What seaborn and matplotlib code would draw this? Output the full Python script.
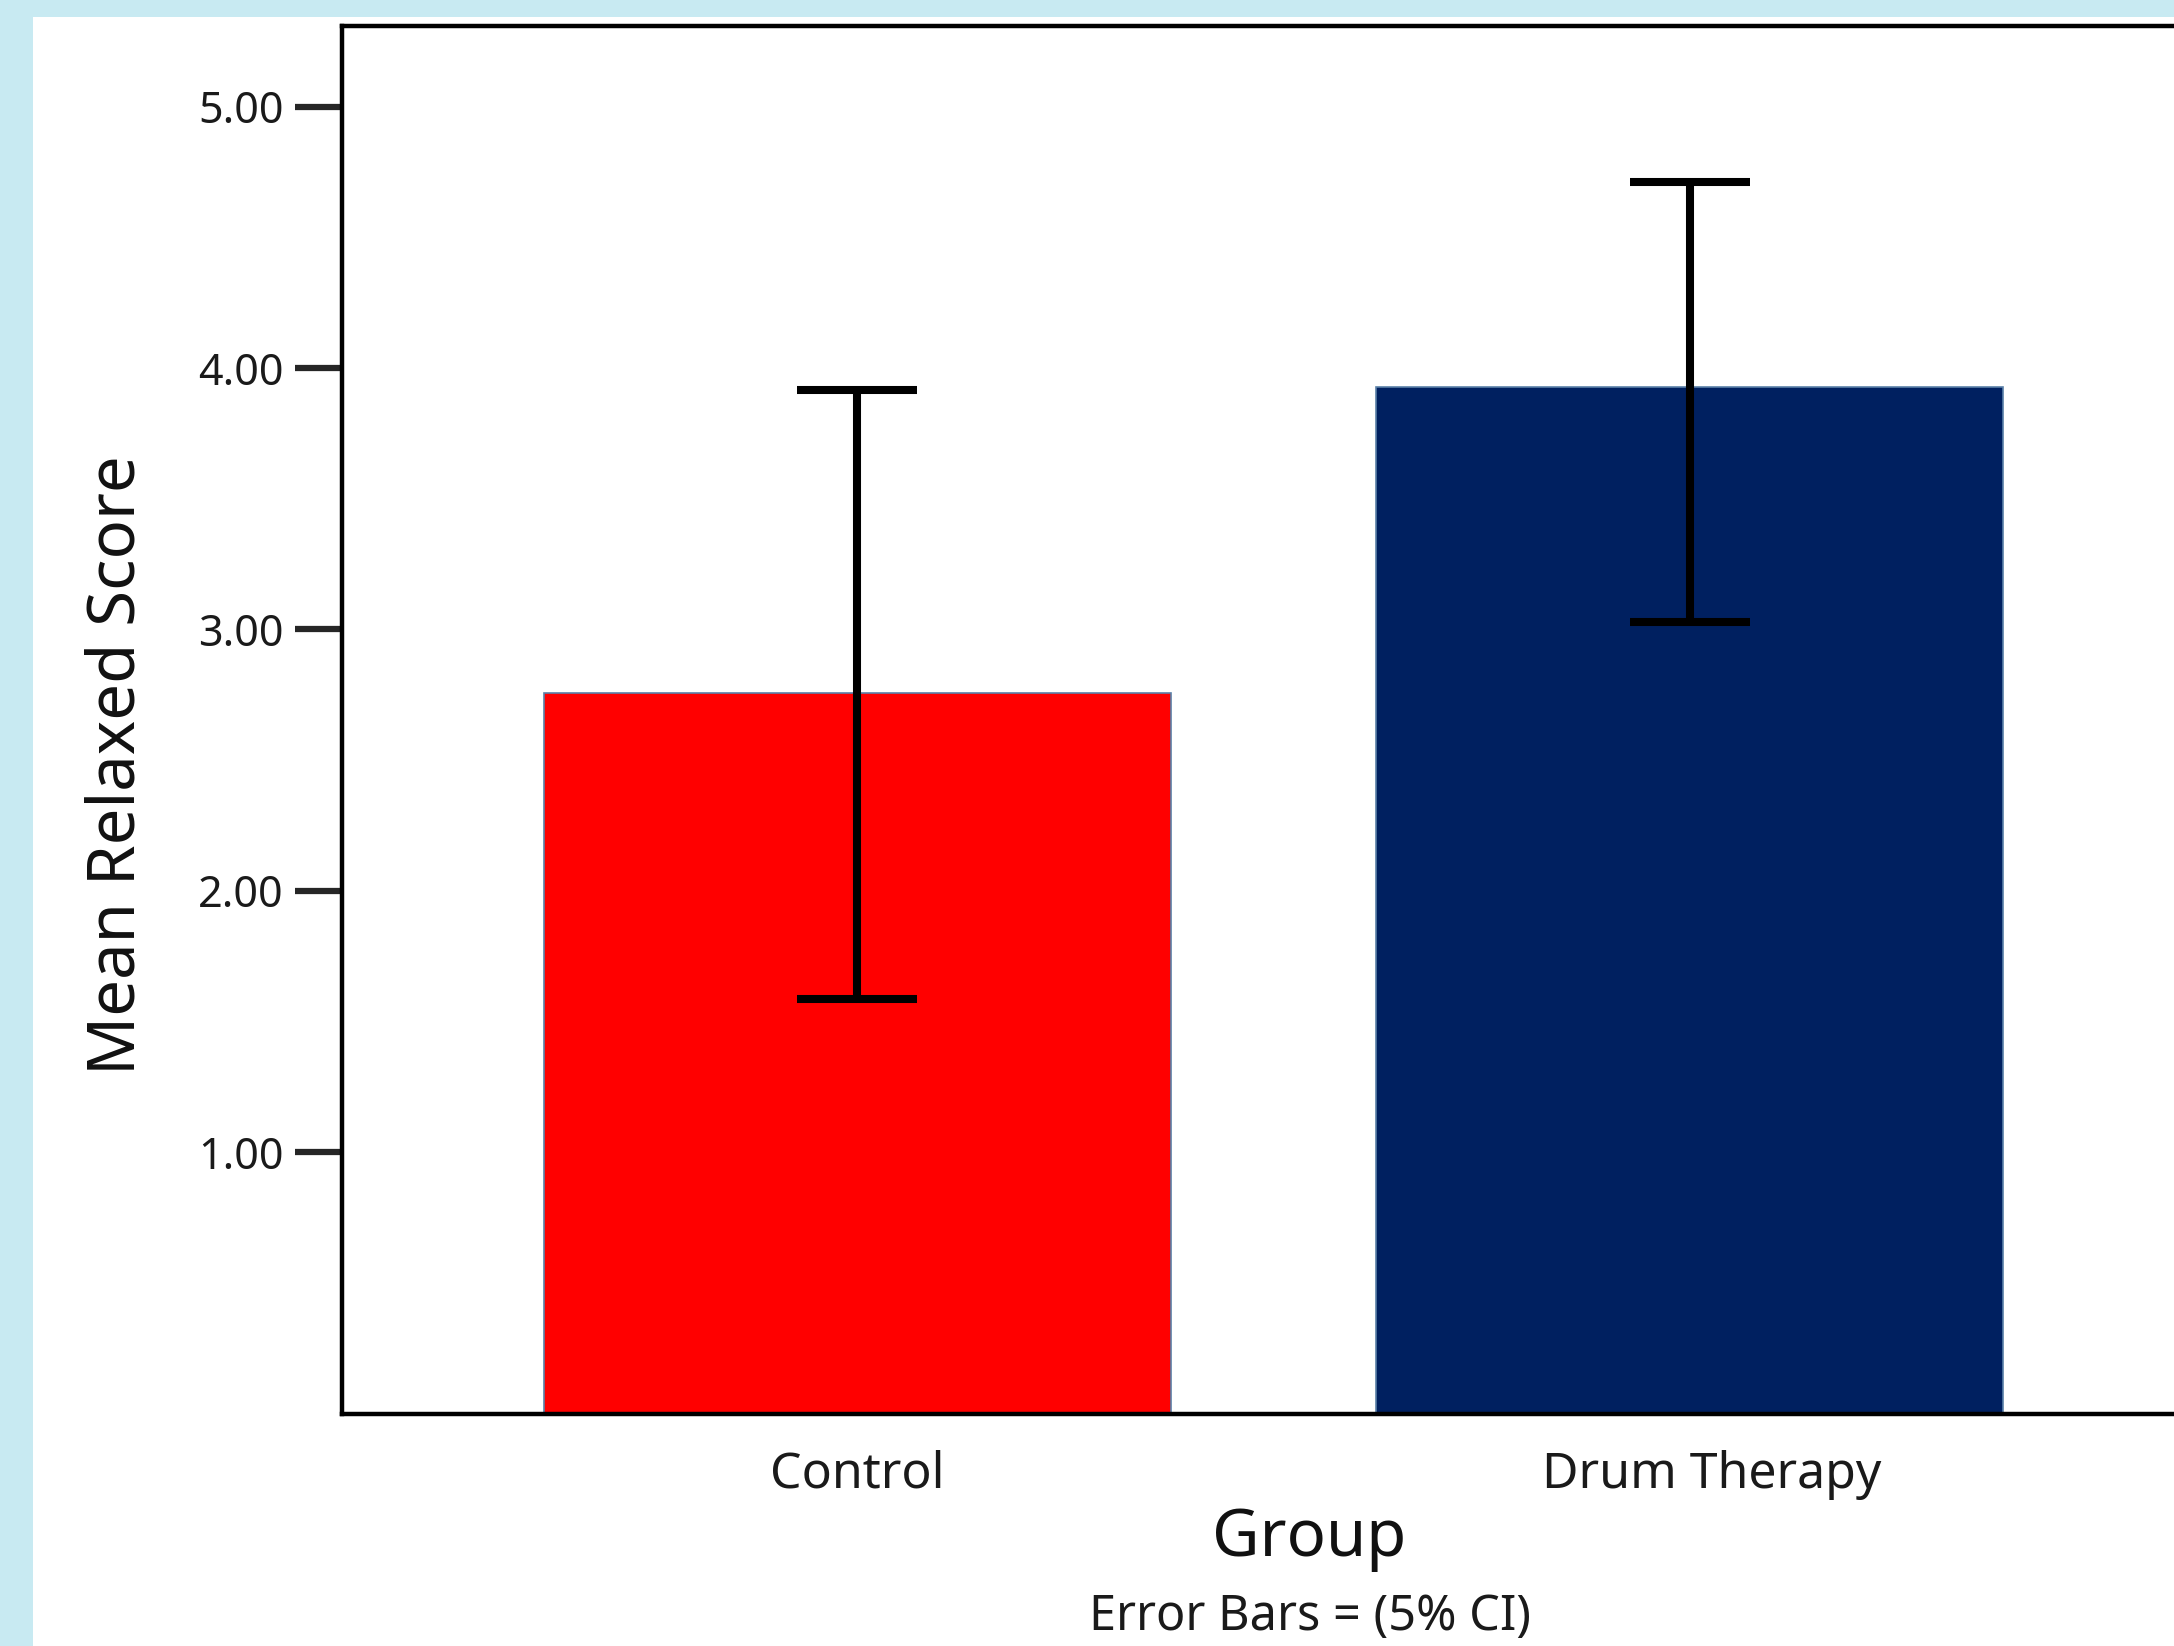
import numpy as np
import matplotlib
matplotlib.use('Agg')
import matplotlib.pyplot as plt
import matplotlib.transforms as mtransforms
import seaborn as sns
from matplotlib.patches import Rectangle

groups = ['Control', 'Drum Therapy']
means = [2.755, 3.926]
ci_low = [1.584, 3.03]
ci_high = [3.915, 4.71]
bar_colors = ['#ff0000', '#002060']
yticks = [1.0, 2.0, 3.0, 4.0, 5.0]

sns.set_style('white')
plt.rcParams['font.family'] = ['Noto Sans', 'DejaVu Sans']

fig = plt.figure(figsize=(21.74, 16.46), dpi=100)
fig.patch.set_facecolor('#c8eaf2')
# white panel inside the light blue frame
fig.patches.append(Rectangle((33 / 2174, 0), 1, 1 - 17 / 1646, transform=fig.transFigure,
                             facecolor='white', edgecolor='none', zorder=-5))

ax = fig.add_axes([342 / 2174, 1 - 1413.5 / 1646, (2195 - 342) / 2174, (1413.5 - 25.6) / 1646])
ax.set_facecolor('white')

sns.barplot(x=groups, y=means, hue=groups, palette=bar_colors, legend=False,
            saturation=1, width=0.753, edgecolor='#5a80a8', linewidth=1.2, ax=ax, zorder=2)

pos = np.arange(len(groups))
m = np.array(means)
yerr = np.array([m - np.array(ci_low), np.array(ci_high) - m])
ax.errorbar(pos, m, yerr=yerr, fmt='none', ecolor='black', elinewidth=5.8,
            capsize=43, capthick=5.8, zorder=3)

ax.set_xlim(-0.619, 1.607)
ax.set_ylim(0, 5.31)
ax.set_yticks(yticks)
ax.set_yticklabels([f'{v:.2f}' for v in yticks], fontsize=31, color='#1a1a1a')
ax.tick_params(axis='y', direction='out', length=34, width=4.5, pad=8, left=True)
ax.tick_params(axis='x', length=0, pad=26, labelsize=36, labelcolor='#1a1a1a')

# the second category label sits a little right of its bar in the original
lbl = ax.get_xticklabels()[1]
lbl.set_transform(lbl.get_transform() + mtransforms.ScaledTranslation(16 / 72, 0, fig.dpi_scale_trans))

for side in ['left', 'bottom', 'top', 'right']:
    ax.spines[side].set_color('black')
    ax.spines[side].set_linewidth(3.2)

ax.set_xlabel('')
ax.set_ylabel('Mean Relaxed Score', fontsize=47, color='#111111')
ax.yaxis.set_label_coords(-0.1035, 0.467)

fig.text(1309 / 2174, 1 - 1539 / 1646, 'Group', fontsize=47, ha='center', va='center',
         color='#111111')
fig.text(1310 / 2174, 1 - 1617 / 1646, 'Error Bars = (5% CI)', fontsize=35, ha='center',
         va='center', color='#1a1a1a')

fig.savefig('out.png', dpi=100, facecolor=fig.get_facecolor())
plt.close(fig)
